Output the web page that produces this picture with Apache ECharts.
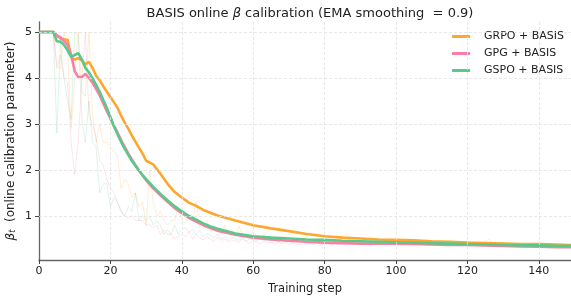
<!DOCTYPE html>
<html>
<head>
<meta charset="utf-8">
<script src="https://cdn.jsdelivr.net/npm/echarts@6/dist/echarts.min.js"></script>
<style>
  html, body { margin: 0; padding: 0; background: #fff; }
  #chart { width: 571px; height: 300px; }
</style>
</head>
<body>
<div id="chart"></div>
<script>
// series names
var names = ['GRPO + BASIS', 'GPG + BASIS', 'GSPO + BASIS'];
var colors = ['#FFA62E', '#FB7FA2', '#58C98A'];

// raw beta_t per step (0..149)
var grpoRaw = [5,5,5,5,5, 4.3,4.2,5,4.6,2.9, 4.0,5,3.7,3.6,5, 3.2,2.6,3.0,2.6,2.6,
  2.5,2.4,2.3,1.6,1.8, 1.7,1.4,1.5,1.2,1.3, 0.8,2.0,1.3,1.0,1.1, 0.9,0.8,0.9,0.9,1.2, 0.9,
  0.85,1.0,0.9,1.3,0.75,0.85,0.9,0.65,0.75,0.7, 0.6,0.8,0.62,0.7,0.55,0.78,0.6,0.58,0.52,0.68,
  0.55,0.5,0.62,0.48,0.58,0.5,0.45,0.56,0.5,0.47, 0.52,0.44,0.5,0.46,0.58,0.45,0.48,0.43,0.5,0.46,
  0.44,0.48,0.42,0.5,0.55,0.62,0.45,0.42,0.47,0.44, 0.41,0.46,0.43,0.5,0.42,0.44,0.4,0.45,0.43,0.42,
  0.44,0.4,0.46,0.41,0.43,0.45,0.4,0.42,0.44,0.39, 0.42,0.4,0.43,0.38,0.41,0.44,0.4,0.39,0.42,0.38,
  0.4,0.42,0.38,0.41,0.45,0.5,0.4,0.38,0.41,0.39, 0.37,0.4,0.38,0.36,0.39,0.37,0.4,0.36,0.38,0.37,
  0.36,0.38,0.35,0.37,0.36,0.35,0.37,0.34,0.36];
var gpgRaw = [5,5,5,5,5, 4.2,4.5,4.0,3.9,2.6, 1.9,2.6,4.0,5,3.2, 3.0,2.7,2.2,2.1,1.8,
  1.6,1.5,1.3,1.1,1.0, 0.95,1.0,0.9,0.9,0.9, 0.8,0.8,0.75,0.8,0.6, 0.7,0.6,0.6,0.5,0.55, 0.6,
  0.55,0.65,0.5,0.6,0.52,0.48,0.56,0.5,0.45,0.53, 0.47,0.5,0.44,0.48,0.46,0.42,0.5,0.44,0.41,0.46,
  0.43,0.4,0.45,0.41,0.43,0.39,0.42,0.4,0.44,0.38, 0.41,0.4,0.37,0.42,0.39,0.4,0.38,0.41,0.37,0.4,
  0.39,0.37,0.4,0.38,0.41,0.37,0.39,0.38,0.4,0.37, 0.39,0.38,0.36,0.4,0.38,0.39,0.37,0.4,0.38,0.39,
  0.38,0.37,0.39,0.38,0.36,0.38,0.37,0.39,0.36,0.38, 0.37,0.36,0.38,0.35,0.37,0.36,0.38,0.35,0.37,0.36,
  0.35,0.37,0.36,0.34,0.36,0.35,0.37,0.34,0.35,0.36, 0.33,0.35,0.34,0.33,0.35,0.32,0.34,0.33,0.32,0.34,
  0.32,0.33,0.31,0.32,0.33,0.31,0.32,0.3,0.31];
var gspoRaw = [5,5,5,5,5, 2.8,4.8,4.0,3.5,3.1, 5,4.9,3.1,2.6,3.5, 2.6,2.5,1.5,1.7,1.7,
  1.2,1.4,1.3,1.1,1.0, 1.2,1.1,1.5,0.9,1.0, 0.9,1.0,0.8,0.9,0.8, 0.6,0.7,0.6,0.8,0.6, 0.7,
  0.75,0.65,0.7,0.6,0.68,0.55,0.62,0.58,0.52,0.6, 0.5,0.55,0.48,0.53,0.5,0.47,0.52,0.46,0.5,0.48,
  0.47,0.5,0.45,0.49,0.46,0.48,0.44,0.47,0.45,0.46, 0.43,0.46,0.44,0.47,0.42,0.45,0.44,0.43,0.46,0.42,
  0.44,0.43,0.45,0.41,0.44,0.42,0.43,0.41,0.44,0.42, 0.43,0.4,0.42,0.41,0.43,0.4,0.42,0.41,0.4,0.42,
  0.41,0.39,0.42,0.4,0.41,0.39,0.4,0.42,0.39,0.4, 0.38,0.41,0.39,0.4,0.38,0.39,0.42,0.38,0.39,0.37,
  0.38,0.4,0.37,0.38,0.39,0.36,0.38,0.37,0.36,0.38, 0.36,0.37,0.35,0.37,0.36,0.35,0.37,0.35,0.36,0.35,
  0.34,0.36,0.35,0.34,0.35,0.34,0.35,0.33,0.34];

// EMA-smoothed curves
var smoothSteps = [0,1,2,3,4,5,6,7,8,9,10,11,12,13,14,15,16,17,18,19,20,21,22,23,24,25,26,27,28,29,30,
  32,34,36,38,40,42,44,46,48,50,55,60,65,70,75,80,85,90,95,100,105,110,115,120,125,130,135,140,145,149];
var grpoSmooth = [5,5,5,5,5,4.93,4.86,4.84,4.83,4.45,4.40,4.43,4.38,4.30,4.35,4.22,4.05,3.95,3.82,3.70,
  3.58,3.47,3.35,3.18,3.03,2.90,2.75,2.62,2.48,2.36,2.20,
  2.12,1.92,1.70,1.52,1.40,1.29,1.22,1.13,1.07,1.01,0.90,0.80,0.73,0.67,0.61,0.56,0.53,0.51,0.49,
  0.48,0.47,0.45,0.44,0.42,0.41,0.40,0.39,0.39,0.38,0.37];
var gpgSmooth = [5,5,5,5,5,4.92,4.88,4.80,4.72,4.50,4.15,4.02,4.02,4.09,4.00,3.90,3.76,3.62,3.45,3.28,
  3.12,2.96,2.81,2.65,2.50,2.36,2.23,2.11,1.99,1.88,1.78,
  1.60,1.45,1.31,1.17,1.06,0.96,0.88,0.80,0.74,0.68,0.59,0.53,0.49,0.46,0.44,0.42,0.41,0.40,0.40,
  0.40,0.39,0.38,0.37,0.37,0.36,0.35,0.34,0.33,0.32,0.32];
var gspoSmooth = [5,5,5,5,5,4.80,4.79,4.72,4.60,4.46,4.50,4.54,4.40,4.22,4.12,3.99,3.85,3.70,3.52,3.35,
  3.15,2.95,2.78,2.61,2.46,2.33,2.20,2.09,1.99,1.89,1.80,
  1.63,1.48,1.34,1.21,1.10,1.00,0.92,0.84,0.77,0.72,0.62,0.56,0.53,0.51,0.49,0.48,0.46,0.45,0.44,
  0.43,0.42,0.41,0.40,0.39,0.38,0.37,0.36,0.36,0.35,0.35];

var yTicks = [1, 2, 3, 4, 5];
var xTicks = [0, 20, 40, 60, 80, 100, 120, 140];

var chart = echarts.init(document.getElementById('chart'));

function rawPairs(arr) {
  return arr.map(function (v, i) { return [i, v]; });
}
function smoothPairs(arr) {
  return arr.map(function (v, i) { return [smoothSteps[i], v]; });
}

var raws = [grpoRaw, gpgRaw, gspoRaw];
var smooths = [grpoSmooth, gpgSmooth, gspoSmooth];
var series = [];

// dashed grid, drawn under everything
series.push({
  type: 'line',
  name: 'grid',
  data: [],
  silent: true,
  z: 0,
  markLine: {
    silent: true,
    symbol: 'none',
    label: { show: false },
    lineStyle: { color: '#e2e2e2', type: [3, 2], width: 0.8 },
    data: yTicks.map(function (v) { return { yAxis: v }; })
      .concat(xTicks.slice(1).map(function (v) { return { xAxis: v }; }))
  }
});

raws.forEach(function (arr, k) {
  series.push({
    type: 'line',
    name: names[k] + ' raw',
    data: rawPairs(arr),
    symbol: 'none',
    silent: true,
    z: 1,
    lineStyle: { color: colors[k], width: 1, opacity: 0.2 }
  });
});
smooths.forEach(function (arr, k) {
  series.push({
    type: 'line',
    name: names[k],
    data: smoothPairs(arr),
    symbol: 'none',
    z: 3,
    color: colors[k],
    lineStyle: { color: colors[k], width: 2.6 }
  });
});

var option = {
  animation: false,
  backgroundColor: '#fff',
  title: {
    text: 'BASIS online {b|β} calibration (EMA smoothing  = 0.9)',
    left: 305,
    textAlign: 'center',
    top: 2,
    textStyle: {
      fontFamily: 'DejaVu Sans',
      fontSize: 13,
      fontWeight: 'normal',
      color: '#222',
      rich: {
        b: { fontFamily: 'DejaVu Sans', fontSize: 13, fontStyle: 'italic', color: '#222' }
      }
    }
  },
  legend: {
    data: names,
    orient: 'vertical',
    right: 2,
    top: 26,
    itemGap: 6,
    itemWidth: 18,
    itemHeight: 3,
    icon: 'rect',
    textStyle: { fontFamily: 'DejaVu Sans', fontSize: 11, color: '#222', padding: [0, 0, 0, 9] }
  },
  grid: { left: 39, right: 0, top: 22, bottom: 40, outerBoundsMode: 'none', containLabel: false },
  xAxis: {
    type: 'value',
    min: 0,
    max: 149,
    interval: 20,
    name: 'Training step',
    nameLocation: 'middle',
    nameGap: 23,
    nameTextStyle: { fontFamily: 'DejaVu Sans', fontSize: 11.5, color: '#222' },
    axisLine: { lineStyle: { color: '#666', width: 1.3 } },
    axisTick: { show: true, length: 4, customValues: xTicks, lineStyle: { color: '#444' } },
    axisLabel: { fontFamily: 'DejaVu Sans', fontSize: 11, color: '#222', margin: 6, customValues: xTicks },
    splitLine: { show: false }
  },
  yAxis: {
    type: 'value',
    min: 0.043,
    max: 5.217,
    name: '{i|β}{s|t}  (online calibration parameter)',
    nameLocation: 'middle',
    nameRotate: 90,
    nameGap: 22,
    nameMoveOverlap: false,
    nameTextStyle: {
      fontFamily: 'DejaVu Sans',
      fontSize: 12,
      color: '#222',
      rich: {
        i: { fontFamily: 'DejaVu Sans', fontSize: 12, fontStyle: 'italic', color: '#222' },
        s: { fontFamily: 'DejaVu Sans', fontSize: 8, fontStyle: 'italic', color: '#222', verticalAlign: 'bottom', padding: [5, 0, 0, 0] }
      }
    },
    axisLine: { show: true, lineStyle: { color: '#666', width: 1.3 } },
    axisTick: { show: true, length: 4, customValues: yTicks, lineStyle: { color: '#444' } },
    axisLabel: { fontFamily: 'DejaVu Sans', fontSize: 11, color: '#222', margin: 7, customValues: yTicks },
    splitLine: { show: false }
  },
  series: series
};
chart.setOption(option);
</script>
</body>
</html>
